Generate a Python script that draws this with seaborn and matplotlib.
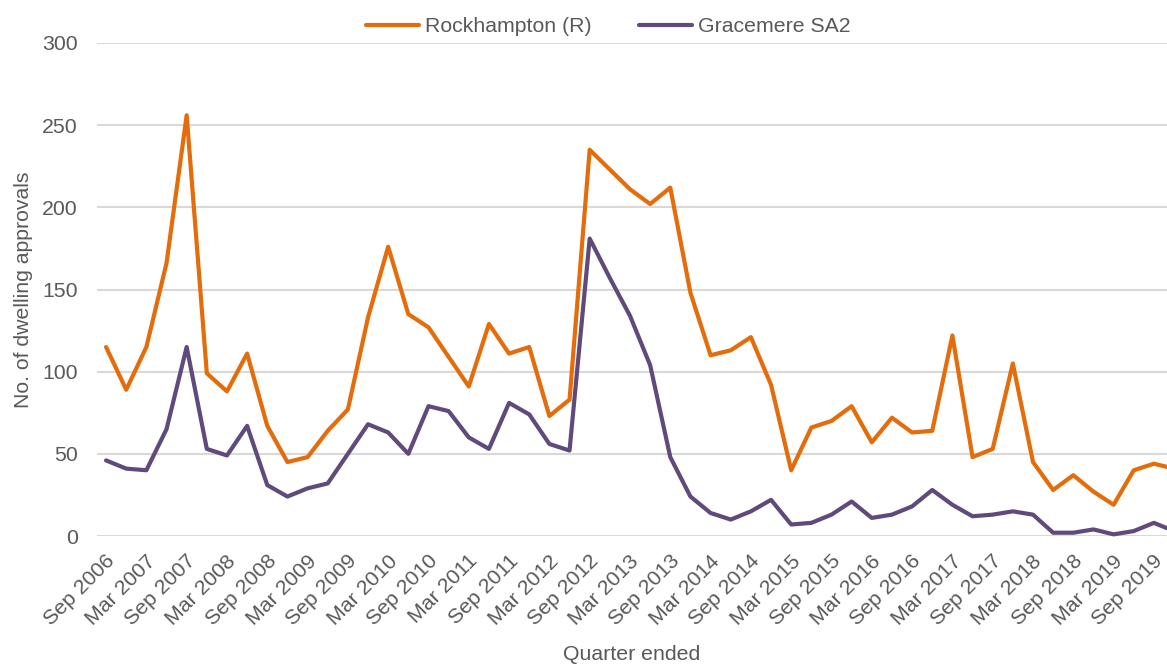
import matplotlib
matplotlib.use("Agg")
import matplotlib.pyplot as plt
import matplotlib.transforms as mtransforms
import seaborn as sns
import pandas as pd
import numpy as np
from matplotlib.lines import Line2D

quarters = [f"{m} {y}" for y in range(2006, 2020) for m in ["Mar", "Jun", "Sep", "Dec"]][2:]
rockhampton = [115, 89, 115, 166, 256, 99, 88, 111, 67, 45, 48, 64, 77, 133, 176, 135,
               127, 109, 91, 129, 111, 115, 73, 83, 235, 223, 211, 202, 212, 148, 110, 113,
               121, 92, 40, 66, 70, 79, 57, 72, 63, 64, 122, 48, 53, 105, 45, 28,
               37, 27, 19, 40, 44, 41]
gracemere = [46, 41, 40, 65, 115, 53, 49, 67, 31, 24, 29, 32, 50, 68, 63, 50,
             79, 76, 60, 53, 81, 74, 56, 52, 181, 157, 134, 104, 48, 24, 14, 10,
             15, 22, 7, 8, 13, 21, 11, 13, 18, 28, 19, 12, 13, 15, 13, 2,
             2, 4, 1, 3, 8, 3]
series_names = ["Rockhampton (R)", "Gracemere SA2"]
colors = ["#E46C0A", "#604A7B"]
tick_labels = quarters[::2]

df = pd.DataFrame({
    "idx": list(range(len(quarters))) * 2,
    "value": rockhampton + gracemere,
    "series": [series_names[0]] * len(quarters) + [series_names[1]] * len(quarters),
})

sns.set_theme(style="white")
plt.rcParams["font.family"] = ["Liberation Sans", "DejaVu Sans"]
text_color = "#595959"
fs = 15.3

fig = plt.figure(figsize=(11.67, 6.67), dpi=100)
ax = fig.add_axes([97 / 1167, 1 - 536 / 667, 1 - 97 / 1167, (536 - 43) / 667])

sns.lineplot(data=df, x="idx", y="value", hue="series", palette=colors,
             hue_order=series_names, linewidth=3.0, ax=ax, legend=False,
             solid_capstyle="round", solid_joinstyle="round", clip_on=False)

ax.set_xlim(-0.45, 52.65)
ax.set_ylim(0, 300)
ax.set_yticks(np.arange(0, 301, 50))
ax.yaxis.grid(True, color="#D9D9D9", linewidth=1.5)
ax.set_axisbelow(True)
for s in ax.spines.values():
    s.set_visible(False)
ax.set_xticks(range(0, len(quarters), 2))
ax.set_xticklabels(tick_labels, rotation=45, ha="right", va="center",
                   rotation_mode="anchor", fontsize=fs, color=text_color)
ax.tick_params(axis="x", length=0, pad=16)
offset = mtransforms.ScaledTranslation(6 / 100, 0, fig.dpi_scale_trans)
for lab in ax.get_xticklabels():
    lab.set_transform(lab.get_transform() + offset)
ax.tick_params(axis="y", length=0, pad=14, labelsize=fs, labelcolor=text_color)
ax.set_xlabel("Quarter ended", fontsize=fs, color=text_color, labelpad=11)
ax.set_ylabel("No. of dwelling approvals", fontsize=fs, color=text_color, labelpad=6.5)

handles = [Line2D([0], [0], color=c, lw=3.0, solid_capstyle="round") for c in colors]
fig.legend(handles, series_names, loc="center", bbox_to_anchor=(0.5214, 1 - 27 / 667),
           ncol=2, frameon=False, fontsize=fs, labelcolor=text_color,
           handlelength=2.5, handletextpad=0.3, columnspacing=2.2)

fig.savefig("out.png", dpi=100)
